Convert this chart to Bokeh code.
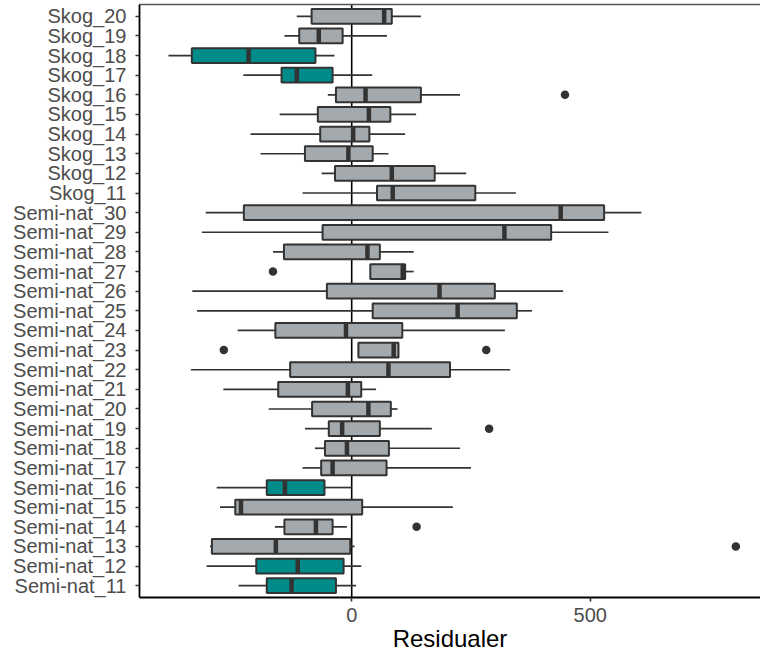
from bokeh.plotting import figure
from bokeh.models import FactorRange, Range1d, Span, LinearAxis, FixedTicker, ColumnDataSource
from bokeh.embed import file_html
from bokeh.resources import INLINE

# ---- data (top to bottom as in the chart) ----
categories = ["Skog_20", "Skog_19", "Skog_18", "Skog_17", "Skog_16", "Skog_15", "Skog_14",
              "Skog_13", "Skog_12", "Skog_11",
              "Semi-nat_30", "Semi-nat_29", "Semi-nat_28", "Semi-nat_27", "Semi-nat_26",
              "Semi-nat_25", "Semi-nat_24", "Semi-nat_23", "Semi-nat_22", "Semi-nat_21",
              "Semi-nat_20", "Semi-nat_19", "Semi-nat_18", "Semi-nat_17", "Semi-nat_16",
              "Semi-nat_15", "Semi-nat_14", "Semi-nat_13", "Semi-nat_12", "Semi-nat_11"]
whisker_low = [-115, -141, -384, -227, -50, -151, -212, -191, -63, -103,
               -306, -314, -165, 39, -334, -324, -239, 14, -337, -269,
               -174, -98, -77, -103, -283, -276, -161, -297, -304, -237]
q1 = [-84, -110, -335, -147, -33, -71, -66, -98, -35, 53,
      -226, -61, -142, 39, -52, 44, -160, 14, -129, -154,
      -83, -48, -56, -64, -178, -244, -141, -293, -200, -178]
median = [68, -69, -216, -115, 29, 36, 3, -7, 84, 86,
          438, 320, 33, 107, 184, 222, -12, 88, 77, -8,
          35, -20, -10, -40, -140, -232, -75, -159, -113, -126]
q3 = [84, -19, -76, -40, 145, 81, 37, 44, 174, 259,
      529, 418, 59, 112, 300, 346, 106, 98, 206, 20,
      82, 59, 78, 73, -57, 22, -40, -3, -17, -33]
whisker_high = [145, 74, -36, 43, 227, 135, 112, 77, 240, 344,
                607, 538, 130, 130, 443, 378, 321, 98, 332, 51,
                96, 168, 227, 250, 0, 212, -10, 6, 20, 9]
highlighted = ["Skog_18", "Skog_17", "Semi-nat_16", "Semi-nat_12", "Semi-nat_11"]

outlier_cat = ["Skog_16", "Semi-nat_27", "Semi-nat_23", "Semi-nat_23", "Semi-nat_19",
               "Semi-nat_14", "Semi-nat_13"]
outlier_val = [447, -165, -268, 282, 288, 136, 805]

x_ticks = [0, 500]
x_title = "Residualer"

GREY = "#A3A9AC"
TEAL = "#008B8B"
DARK = "#333333"
FONT = "Liberation Sans"

fills = [TEAL if c in highlighted else GREY for c in categories]
src = ColumnDataSource(dict(cat=categories, lo=whisker_low, q1=q1, med=median,
                            q3=q3, hi=whisker_high, fill=fills))

p = figure(width=760, height=656, output_backend="svg", toolbar_location=None,
           y_range=FactorRange(factors=list(reversed(categories)), range_padding=0.1,
                               range_padding_units="absolute"),
           x_range=Range1d(-444.7, 856.7),
           min_border_left=139, min_border_right=0, min_border_top=4, min_border_bottom=59)

p.background_fill_color = "white"
p.border_fill_color = "white"
p.outline_line_color = None
p.xgrid.grid_line_color = None
p.ygrid.grid_line_color = None

zero = Span(location=0, dimension="height", line_color="black", line_width=1.6, level="underlay")
p.add_layout(zero)

# whiskers
p.segment(x0="lo", y0="cat", x1="q1", y1="cat", source=src, line_color=DARK, line_width=1.7)
p.segment(x0="q3", y0="cat", x1="hi", y1="cat", source=src, line_color=DARK, line_width=1.7)
# boxes
p.hbar(y="cat", left="q1", right="q3", height=0.75, source=src, fill_color="fill",
       line_color=DARK, line_width=2)
# medians
p.rect(x="med", y="cat", width=4.5, width_units="screen", height=0.75, source=src,
       fill_color=DARK, line_color=None)
# outliers
p.scatter(x=outlier_val, y=outlier_cat, size=8.5, fill_color=DARK, line_color=None)

# axes
xa = p.xaxis[0]
xa.ticker = FixedTicker(ticks=x_ticks)
xa.axis_label = x_title
xa.axis_label_text_font = FONT
xa.axis_label_text_font_size = "24px"
xa.axis_label_text_font_style = "normal"
xa.axis_label_text_color = "black"
xa.axis_label_standoff = 0
xa.major_label_text_font = FONT
xa.major_label_text_font_size = "20px"
xa.major_label_text_color = "#4D4D4D"
xa.major_label_standoff = 6
xa.axis_line_color = "black"
xa.axis_line_width = 1.8
xa.major_tick_line_color = DARK
xa.major_tick_line_width = 1.6
xa.major_tick_in = 0
xa.major_tick_out = 4
xa.minor_tick_line_color = None

ya = p.yaxis[0]
ya.major_label_text_font = FONT
ya.major_label_text_font_size = "20px"
ya.major_label_text_color = "#4D4D4D"
ya.major_label_standoff = 9
ya.axis_line_color = "black"
ya.axis_line_width = 1.8
ya.major_tick_line_color = DARK
ya.major_tick_line_width = 1.6
ya.major_tick_in = 0
ya.major_tick_out = 4

top = LinearAxis(ticker=FixedTicker(ticks=[]), axis_line_color="#555555", axis_line_width=1.6,
                 major_tick_line_color=None, minor_tick_line_color=None,
                 major_label_text_font_size="0px")
p.add_layout(top, "above")

open("out.html", "w").write(file_html(p, INLINE))
